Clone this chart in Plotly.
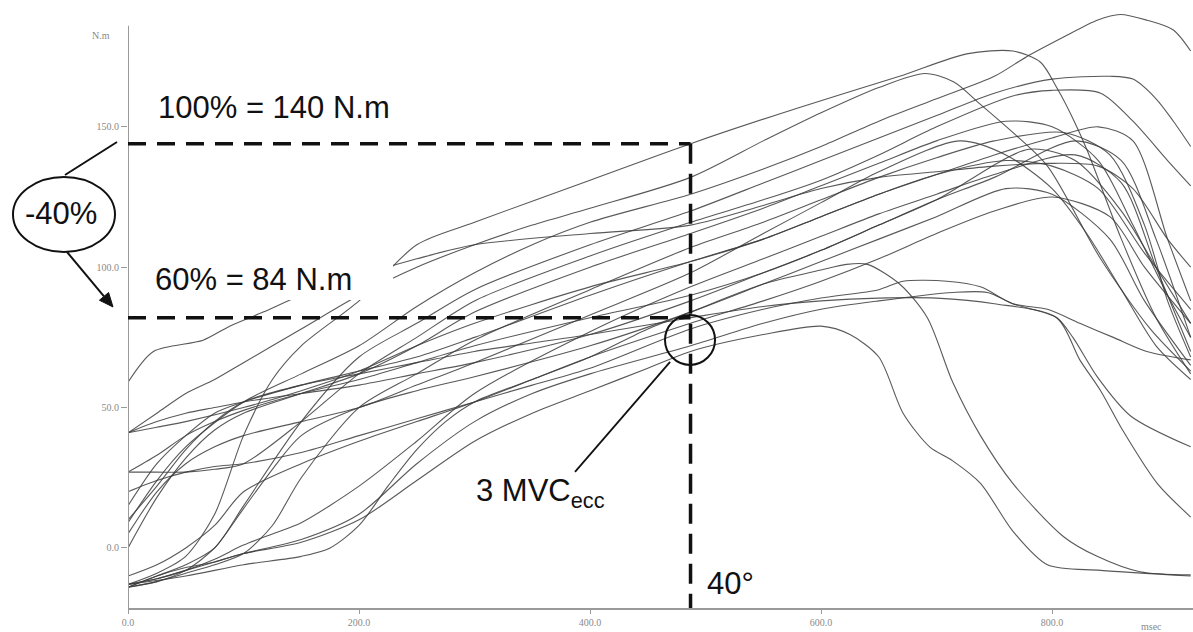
import plotly.graph_objects as go

# ---------------- data (time in msec, torque in N.m) ----------------
trial01_ms = [0, 25, 50, 75, 100, 125, 150, 200, 250, 300, 400, 487, 582, 668, 726, 766, 790, 804, 818, 830, 860, 890, 920]
trial01_nm = [-13, -9, -3, 12, 40, 60, 72, 88, 108, 116, 131, 144, 157, 168, 176, 177, 173, 164, 153, 142, 110, 82, 62]

trial02_ms = [0, 25, 50, 100, 150, 200, 250, 300, 350, 400, 487, 550, 600, 650, 700, 750, 778, 810, 839, 859, 882, 905, 920]
trial02_nm = [9, 24, 36, 52, 62, 72, 86, 98, 108, 116, 126, 135, 143, 152, 160, 168, 175, 182, 188, 190, 188, 184.5, 177]

trial03_ms = [0, 25, 50, 75, 100, 150, 200, 250, 300, 350, 400, 487, 550, 600, 650, 690, 715, 738, 766, 796, 842, 885, 920]
trial03_nm = [41, 48, 55, 60, 66, 78, 90, 100, 108, 115, 121, 132, 145, 155, 164, 169, 166, 158, 148, 136, 103, 78, 63]

trial04_ms = [0, 25, 50, 75, 100, 150, 200, 250, 300, 400, 487, 550, 600, 650, 700, 750, 800, 850, 870, 890, 905, 920]
trial04_nm = [-14, -10, -6, 0, 15, 45, 68, 80, 92, 108, 120, 130, 138, 146, 154, 162, 167, 168, 167, 160, 152, 143]

trial05_ms = [0, 25, 50, 75, 100, 150, 200, 250, 300, 400, 487, 550, 600, 650, 700, 766, 800, 842, 870, 900, 920]
trial05_nm = [27, 27, 27, 28, 30, 45, 62, 75, 88, 104, 116, 124, 131, 140, 150, 161, 163, 162, 152, 138, 129]

trial06_ms = [0, 25, 50, 75, 100, 150, 200, 250, 300, 400, 487, 550, 600, 650, 700, 760, 800, 840, 870, 900, 920]
trial06_nm = [0, 18, 32, 42, 48, 55, 62, 72, 84, 100, 112, 121, 129, 137, 145, 152, 150, 138, 115, 90, 75]

trial07_ms = [0, 25, 50, 75, 100, 125, 150, 200, 250, 300, 400, 487, 550, 600, 650, 700, 750, 810, 850, 880, 900, 920]
trial07_nm = [-14, -12, -9, -6, -2, 8, 25, 50, 62, 74, 92, 107, 116, 124, 132, 139, 145, 148, 140, 115, 88, 68]

trial08_ms = [0, 25, 50, 75, 100, 150, 200, 250, 300, 400, 487, 550, 600, 650, 700, 750, 800, 840, 870, 900, 920]
trial08_nm = [15, 30, 40, 48, 52, 58, 63, 68, 75, 90, 102, 110, 118, 126, 133, 140, 146, 150, 145, 110, 88]

trial09_ms = [0, 25, 50, 75, 100, 150, 200, 250, 300, 400, 487, 550, 600, 650, 720, 760, 800, 830, 860, 890, 920]
trial09_nm = [5, 20, 30, 36, 40, 45, 50, 58, 66, 83, 98, 112, 123, 134, 145, 140, 128, 112, 92, 72, 60]

trial10_ms = [0, 25, 50, 75, 100, 125, 150, 200, 250, 300, 400, 487, 550, 600, 650, 700, 750, 820, 860, 890, 920]
trial10_nm = [-13, -11, -8, -4, 1, 5, 9, 22, 38, 55, 77, 93, 103, 111, 119, 126, 133, 140, 130, 100, 70]

trial11_ms = [0, 25, 50, 75, 100, 150, 200, 250, 300, 400, 487, 550, 600, 650, 700, 780, 820, 860, 890, 920]
trial11_nm = [41, 45, 48, 50, 52, 55, 58, 62, 66, 76, 88, 98, 106, 115, 124, 142, 138, 120, 100, 80]

trial12_ms = [0, 25, 50, 75, 100, 150, 200, 250, 300, 350, 400, 450, 487, 550, 600, 622, 640, 668, 692, 714, 738, 766, 810, 839, 876, 920]
trial12_nm = [-10, -6, 0, 8, 20, 30, 38, 45, 52, 60, 68, 78, 84, 94, 99, 101, 101, 94, 82, 59, 40, 23, 4, -3, -8.5, -9.6]

trial13_ms = [0, 25, 50, 75, 100, 150, 200, 250, 300, 350, 400, 450, 487, 550, 600, 625, 650, 671, 694, 714, 738, 766, 796, 842, 920]
trial13_nm = [-14, -10, -7, -5, -2, 2, 10, 24, 38, 48, 56, 64, 70, 76, 79, 76, 68, 48, 36, 31, 23, 6, -6, -8, -10]

trial14_ms = [0, 25, 50, 75, 100, 150, 200, 250, 300, 350, 400, 487, 550, 600, 650, 671, 709, 738, 766, 796, 824, 853, 882, 920]
trial14_nm = [20, 24, 27, 29, 30, 34, 40, 46, 52, 58, 64, 78, 85, 89, 92, 95, 95, 93, 87, 85, 80, 75, 70, 67]

trial15_ms = [0, 25, 50, 75, 100, 150, 200, 250, 300, 350, 400, 487, 550, 600, 650, 714, 744, 766, 804, 818, 839, 868, 920]
trial15_nm = [-13, -11, -8, -5, -2, 3, 12, 30, 45, 55, 62, 72, 80, 85, 88, 91, 91, 87, 82, 75, 61, 47, 36]

trial16_ms = [0, 25, 50, 75, 100, 150, 200, 250, 300, 350, 400, 487, 550, 600, 650, 700, 750, 804, 824, 842, 861, 891, 920]
trial16_nm = [10, 22, 35, 45, 52, 58, 62, 66, 70, 73, 76, 82, 86, 88, 89, 89, 87, 82, 67, 56, 42, 23, 11]

trial17_ms = [0, 22, 65, 88, 117, 150, 200, 250, 300, 400, 487, 550, 600, 650, 700, 750, 800, 840, 870, 900, 920]
trial17_nm = [59, 70, 74, 79, 84, 90, 97, 103, 108, 112, 115, 122, 128, 132, 134, 136, 137, 136, 128, 110, 100]

trial18_ms = [0, 25, 50, 100, 150, 200, 250, 300, 400, 487, 550, 600, 650, 700, 760, 800, 840, 880, 920]
trial18_nm = [41, 43, 45, 50, 56, 63, 72, 80, 93, 102, 110, 118, 126, 133, 138, 136, 128, 105, 85]

trial19_ms = [0, 25, 50, 75, 100, 125, 150, 200, 250, 300, 400, 487, 550, 600, 650, 700, 760, 800, 850, 880, 920]
trial19_nm = [-14, -12, -8, 0, 14, 28, 40, 50, 56, 61, 72, 84, 94, 102, 110, 118, 128, 126, 110, 88, 65]

trial20_ms = [0, 25, 50, 75, 100, 150, 200, 250, 300, 400, 487, 550, 600, 650, 700, 750, 820, 860, 890, 920]
trial20_nm = [27, 33, 40, 45, 49, 55, 60, 66, 72, 82, 90, 98, 106, 115, 124, 132, 145, 138, 110, 75]

trial21_ms = [0, 50, 100, 150, 175, 200, 225, 250, 275, 300, 350, 400, 487, 550, 600, 650, 700, 750, 800, 850, 880, 920]
trial21_nm = [-13, -10, -6, -3, 0, 8, 22, 35, 45, 52, 60, 68, 80, 88, 95, 103, 112, 120, 125, 118, 100, 80]

trials = [
    (trial01_ms, trial01_nm), (trial02_ms, trial02_nm), (trial03_ms, trial03_nm),
    (trial04_ms, trial04_nm), (trial05_ms, trial05_nm), (trial06_ms, trial06_nm),
    (trial07_ms, trial07_nm), (trial08_ms, trial08_nm), (trial09_ms, trial09_nm),
    (trial10_ms, trial10_nm), (trial11_ms, trial11_nm), (trial12_ms, trial12_nm),
    (trial13_ms, trial13_nm), (trial14_ms, trial14_nm), (trial15_ms, trial15_nm),
    (trial16_ms, trial16_nm), (trial17_ms, trial17_nm), (trial18_ms, trial18_nm),
    (trial19_ms, trial19_nm), (trial20_ms, trial20_nm), (trial21_ms, trial21_nm),
]

x_ticks = [0, 200, 400, 600, 800]
x_tick_labels = ["0.0", "200.0", "400.0", "600.0", "800.0"]
y_ticks = [0, 50, 100, 150]
y_tick_labels = ["0.0", "50.0", "100.0", "150.0"]

mvc_100 = 144      # level of the 100 % dashed line (as drawn)
mvc_60 = 82        # level of the 60 % dashed line (as drawn)
angle_40_ms = 487  # time at 40 degrees

X_RANGE = [0, 922]
Y_RANGE = [-21.4, 193.4]

# ---------------- figure ----------------
fig = go.Figure()
for t, v in trials:
    fig.add_trace(go.Scatter(
        x=t, y=v, mode="lines",
        line=dict(color="rgba(60,60,60,0.85)", width=1.1, shape="spline", smoothing=0.8),
        showlegend=False, hoverinfo="skip",
    ))

big = dict(family="Liberation Sans, Arial, sans-serif", size=31, color="#111")
small = dict(family="Liberation Serif, Times New Roman, serif", size=10, color="#8a8a8a")

shapes = [
    # white label box hiding traces behind "60% = 84 N.m"
    dict(type="rect", xref="x", yref="y", x0=0, x1=229.5, y0=88.3, y1=109.7,
         fillcolor="white", line=dict(width=0), layer="above"),
    # y axis line
    dict(type="line", xref="x", yref="y", x0=0, x1=0, y0=Y_RANGE[0], y1=186,
         line=dict(color="#9a9a9a", width=2), layer="above"),
    # dashed reference lines
    dict(type="line", xref="x", yref="y", x0=0, x1=angle_40_ms, y0=mvc_100, y1=mvc_100,
         line=dict(color="#111", width=3.5, dash="18px,11px"), layer="above"),
    dict(type="line", xref="x", yref="y", x0=0, x1=angle_40_ms, y0=mvc_60, y1=mvc_60,
         line=dict(color="#111", width=3.5, dash="18px,11px"), layer="above"),
    dict(type="line", xref="x", yref="y", x0=angle_40_ms, x1=angle_40_ms, y0=mvc_100, y1=Y_RANGE[0],
         line=dict(color="#111", width=3.5, dash="20px,10px"), layer="above"),
    # circle around the 40 degree crossing
    dict(type="circle", xref="x", yref="y", x0=464.9, x1=508.2, y0=65.2, y1=83.0,
         line=dict(color="#111", width=2), layer="above"),
    # pointer from label to circle
    dict(type="line", xref="x", yref="y", x0=387, y0=27.1, x1=469.3, y1=66.3,
         line=dict(color="#111", width=1.8), layer="above"),
    # -40% ellipse and connector (outside plot area)
    dict(type="circle", xref="paper", yref="paper", x0=-0.108, x1=-0.0122, y0=0.5904, y1=0.7148,
         line=dict(color="#111", width=2)),
    dict(type="line", xref="paper", yref="paper", x0=-0.0592, y0=0.7181, x1=-0.0103, y1=0.7728,
         line=dict(color="#111", width=2)),
    # arrow from ellipse down to the 60 % line
    dict(type="line", xref="paper", yref="paper", x0=-0.05728, y0=0.5904, x1=-0.02254, y1=0.5169,
         line=dict(color="#111", width=2)),
    dict(type="path", xref="paper", yref="paper",
         path="M -0.01408 0.4992 L -0.02685 0.5104 L -0.01822 0.5232 Z",
         fillcolor="#111", line=dict(color="#111", width=1)),
]

annotations = [
    dict(x=24, y=157, xref="x", yref="y", text="100% = 140 N.m", showarrow=False,
         xanchor="left", yanchor="middle", font=big),
    dict(x=21.6, y=95.5, xref="x", yref="y", text="60% = 84 N.m", showarrow=False,
         xanchor="left", yanchor="middle", font=big),
    dict(x=499.6, y=-12.8, xref="x", yref="y", text="40°", showarrow=False,
         xanchor="left", yanchor="middle", font=big),
    dict(x=414.7, y=19.6, xref="x", yref="y", text="3 MVC<sub>ecc</sub>", showarrow=False,
         xanchor="right", yanchor="middle", font=big),
    dict(x=-0.0629, y=0.6534, xref="paper", yref="paper", text="-40%", showarrow=False,
         xanchor="center", yanchor="middle", font=big),
    dict(x=-0.0254, y=0.950, xref="paper", yref="paper", text="N.m", showarrow=False,
         xanchor="center", yanchor="middle", font=small),
    dict(x=0.9606, y=-0.0315, xref="paper", yref="paper", text="msec", showarrow=False,
         xanchor="center", yanchor="middle", font=small),
]

fig.update_layout(
    width=1193, height=632,
    margin=dict(l=128, r=0, t=5, b=24),
    paper_bgcolor="white", plot_bgcolor="white",
    shapes=shapes, annotations=annotations,
    xaxis=dict(range=X_RANGE, tickvals=x_ticks, ticktext=x_tick_labels,
               showgrid=False, zeroline=False, showline=True, linecolor="#9a9a9a", linewidth=2,
               ticks="outside", ticklen=4, tickcolor="#9a9a9a", tickfont=small),
    yaxis=dict(range=Y_RANGE, tickvals=y_ticks, ticktext=y_tick_labels,
               showgrid=False, zeroline=False, showline=False,
               ticks="outside", ticklen=6, tickcolor="#9a9a9a", tickfont=small),
)

fig.write_html("out.html", config={"displayModeBar": False},
               post_script="document.body.style.margin='0px';")
